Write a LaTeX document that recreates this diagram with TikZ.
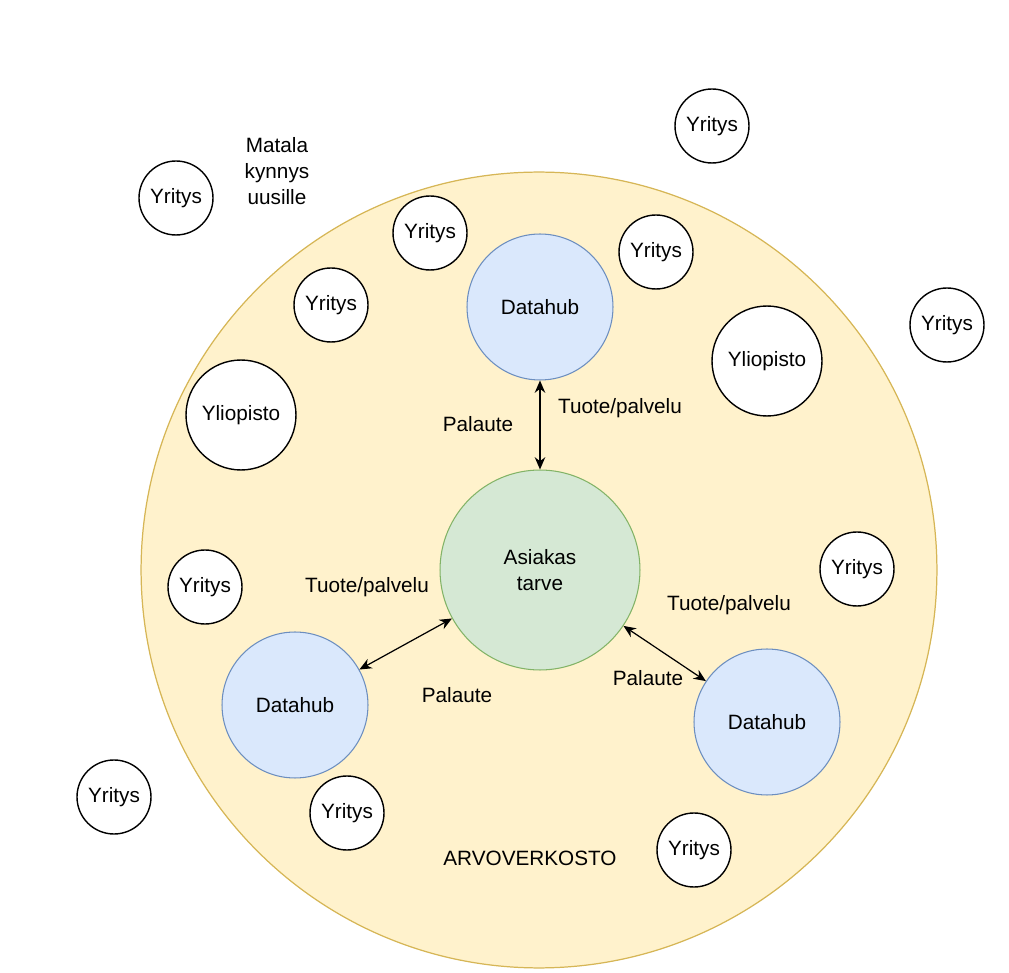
\documentclass[tikz,border=0pt]{standalone}
\usepackage{fontspec}
\setmainfont{Liberation Sans}
\usetikzlibrary{arrows.meta}
\definecolor{custom-yellow}{RGB}{255, 242, 204}
\definecolor{custom-yellow-line}{RGB}{214, 182, 86}
\definecolor{custom-green}{RGB}{213, 232, 212}
\definecolor{custom-green-line}{RGB}{130, 179, 102}
\definecolor{custom-blue}{RGB}{218, 232, 252}
\definecolor{custom-blue-line}{RGB}{108, 142, 191}

\begin{document}
\begin{tikzpicture}[x=0.02cm, y=-0.02cm, font=\fontsize{11.8}{14.8}\selectfont,
    yritys/.style={circle, draw=black, fill=white, line width=0.8pt, minimum size=1.48cm, inner sep=0pt},
    yliopisto/.style={yritys, minimum size=2.2cm},
    datahub/.style={circle, draw=custom-blue-line, fill=custom-blue, line width=0.6pt, minimum size=2.92cm, inner sep=0pt},
    link/.style={{Stealth[length=7pt, width=6pt]}-{Stealth[length=7pt, width=6pt]}, line width=0.7pt}]
            \useasboundingbox (0, 0) rectangle (1009, 973);
            % arvoverkosto
            \node[circle, draw=custom-yellow-line, fill=custom-yellow, line width=0.7pt, minimum size=15.92cm] (verkosto) at (539, 570) {};
            \node (arvo) at (530, 858) {ARVOVERKOSTO};
            % keskusta
            \node[circle, draw=custom-green-line, fill=custom-green, line width=0.6pt, minimum size=4cm, inner sep=0pt, align=center] (asiakas) at (540, 570) {Asiakas\\tarve};
            \node[datahub] (hub-top) at (540, 307) {Datahub};
            \node[datahub] (hub-left) at (295, 705) {Datahub};
            \node[datahub] (hub-right) at (767, 722) {Datahub};
            \draw[link] (hub-top) -- (asiakas);
            \draw[link] (hub-left) -- (asiakas);
            \draw[link] (hub-right) -- (asiakas);
            \node (pal-top) at (478, 424) {Palaute};
            \node (tuo-top) at (620, 408) {Tuote/palvelu};
            \node (tuo-left) at (367, 587) {Tuote/palvelu};
            \node (pal-left) at (457, 695) {Palaute};
            \node (tuo-right) at (729, 605) {Tuote/palvelu};
            \node (pal-right) at (648, 678) {Palaute};
            % yritykset ja yliopistot
            \node[yliopisto] (yo-left) at (241, 415) {Yliopisto};
            \node[yliopisto] (yo-right) at (767, 361) {Yliopisto};
            \node[yritys] (yr-1) at (712, 126) {Yritys};
            \node[yritys] (yr-2) at (176, 198) {Yritys};
            \node[yritys] (yr-3) at (430, 233) {Yritys};
            \node[yritys] (yr-4) at (656, 252) {Yritys};
            \node[yritys] (yr-5) at (331, 305) {Yritys};
            \node[yritys] (yr-6) at (947, 325) {Yritys};
            \node[yritys] (yr-7) at (205, 587) {Yritys};
            \node[yritys] (yr-8) at (857, 569) {Yritys};
            \node[yritys] (yr-9) at (114, 797) {Yritys};
            \node[yritys] (yr-10) at (347, 813) {Yritys};
            \node[yritys] (yr-11) at (694, 850) {Yritys};
            \node[align=center] (kynnys) at (277, 171) {Matala\\kynnys\\uusille};
        \end{tikzpicture}
\end{document}
